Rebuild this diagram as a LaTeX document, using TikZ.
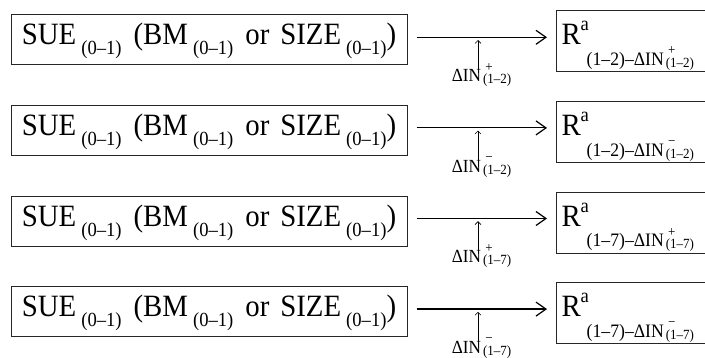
\documentclass[tikz,border=0pt]{standalone}
\usepackage{fontspec}
\setmainfont{Liberation Serif}[FakeStretch=0.93]
\usetikzlibrary{arrows.meta,positioning}
\newcommand{\bigf}{\fontsize{31}{33}\selectfont}
\newcommand{\subf}{\fontsize{20}{21}\selectfont}
\newcommand{\rsf}{\fontsize{19}{20}\selectfont}
\newcommand{\labf}{\fontsize{18.5}{19}\selectfont}
\newcommand{\tinf}{\fontsize{14}{15}\selectfont}
\newcommand{\lsub}[1]{\hspace{5pt}\raisebox{-10pt}{\subf #1}}
\newcommand{\stk}[2]{\hspace{2pt}\makebox[0pt][l]{\raisebox{10.5pt}{\tinf\,#1}}\raisebox{-2pt}{\tinf #2}}
\newcommand{\din}[2]{ΔIN\stk{#1}{#2}}
\newcommand{\sue}{SUE\lsub{(0–1)}\hspace{12pt}(BM\lsub{(0–1)}\hspace{12pt}or\hspace{11pt}SIZE\lsub{(0–1)})}
\newcommand{\ret}[2]{R\makebox[0pt][l]{\raisebox{14pt}{\subf a}}\hspace{6pt}\raisebox{-20.5pt}{\rsf(#1)–\din{#2}{(#1)}}}
\tikzset{sb/.style={draw=black!85,line width=1pt,inner sep=0pt,font=\bigf,minimum width=396pt,text height=30pt,text depth=20pt},
 rb/.style={draw=black!85,line width=1pt,inner xsep=5pt,inner ysep=0pt,font=\bigf,text width=155pt,align=left,text height=34pt,text depth=27pt,anchor=west},
 dl/.style={font=\labf,inner sep=0pt,anchor=base},
 ar/.style={-{Straight Barb[length=10pt,width=14pt]},line width=1.2pt,shorten <=9pt,shorten >=9pt},
 uar/.style={-{Straight Barb[length=3pt,width=6pt]},line width=0.6pt,shorten <=-10pt}}

\begin{document}
\begin{tikzpicture}[x=1pt,y=-1pt]
\useasboundingbox (0,0) rectangle (705,358);
\node[sb](s1) at (209,40){\sue};
\node[rb](r1) at (556,41.5){\ret{1–2}{+}};
\node[dl](d1) at (481.5,81.7){\din{+}{(1–2)}};
\coordinate (t1) at (478,40);
\node[sb](s2) at (209,130.6){\sue};
\node[rb](r2) at (556,132.1){\ret{1–2}{−}};
\node[dl](d2) at (481.5,172.3){\din{−}{(1–2)}};
\coordinate (t2) at (478,130.6);
\node[sb](s3) at (209,221.2){\sue};
\node[rb](r3) at (556,222.7){\ret{1–7}{+}};
\node[dl](d3) at (481.5,262.9){\din{+}{(1–7)}};
\coordinate (t3) at (478,221.2);
\node[sb](s4) at (209,311.8){\sue};
\node[rb](r4) at (556,313.3){\ret{1–7}{−}};
\node[dl](d4) at (481.5,353.5){\din{−}{(1–7)}};
\coordinate (t4) at (478,311.8);
\draw[ar]([yshift=2.7pt]s1.east)--([yshift=4.2pt]r1.west);\draw[uar](t1 |- d1.north)--(t1);
\draw[ar]([yshift=2.7pt]s2.east)--([yshift=4.2pt]r2.west);\draw[uar](t2 |- d2.north)--(t2);
\draw[ar]([yshift=2.7pt]s3.east)--([yshift=4.2pt]r3.west);\draw[uar](t3 |- d3.north)--(t3);
\draw[ar]([yshift=2.7pt]s4.east)--([yshift=4.2pt]r4.west);\draw[uar](t4 |- d4.north)--(t4);
\end{tikzpicture}
\end{document}
